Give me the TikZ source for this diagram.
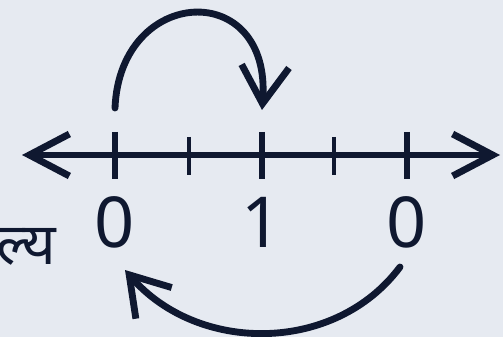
\documentclass[tikz,border=0pt]{standalone}
\usepackage{fontspec}
\setmainfont{Noto Sans}
\newfontfamily\devfont[Script=Devanagari]{Noto Sans}
\usetikzlibrary{arrows.meta}
\definecolor{bgcol}{RGB}{230,234,241}
\definecolor{ink}{RGB}{15,24,48}

\begin{document}
\begin{tikzpicture}[x=0.02cm, y=-0.02cm, color=ink, line width=3.9pt,
    axis/.style={{Straight Barb[length=8mm,width=8.4mm]}-{Straight Barb[length=8mm,width=8.4mm]}},
    jump/.style={line cap=round, -{Straight Barb[length=7.5mm,width=9.5mm]}},
    lbl/.style={inner sep=0pt, font=\fontsize{40}{48}\selectfont}]
        \fill[bgcol] (0,0) rectangle (503,337);
        \useasboundingbox (0,0) rectangle (503,337);

        \coordinate (lend) at (22,155);
        \coordinate (rend) at (500,155);
        \draw[axis] (lend) -- (rend);

        \foreach \i/\x/\text in {0/115/0, 1/262/1, 2/407/0} {
            \coordinate (t\i) at (\x,155);
            \draw (\x,132) -- (\x,179);
            \node[lbl] (n\i) at (\x,222) {\text};
        }
        \foreach \x in {189, 334}
            \draw[line width=2.8pt] (\x,137) -- (\x,175);

        \node[anchor=base east, inner sep=0pt, font=\devfont\fontsize{33}{40}\selectfont] (word) at (60,265) {ल्य};

        \coordinate (up0) at (115,108);
        \coordinate (up1) at (262,110);
        \draw[jump] (up0) .. controls (120,-15) and (272,-22) .. (up1);

        \coordinate (dn2) at (400,267);
        \coordinate (dn0) at (125,270);
        \draw[jump] (dn2) .. controls (335,354) and (198,354) .. (dn0);
    \end{tikzpicture}
\end{document}
